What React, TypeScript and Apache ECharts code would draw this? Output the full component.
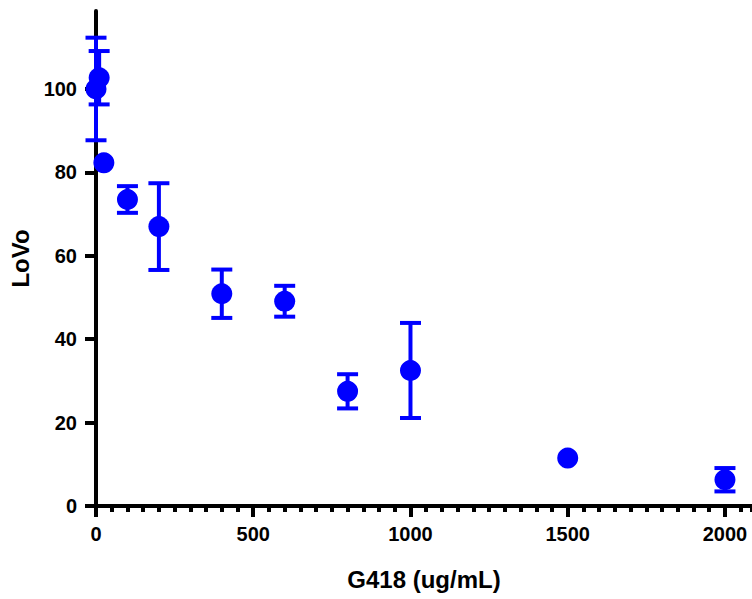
import React, { useEffect, useRef } from "react";
import * as echarts from "echarts";

const xValues = [0, 10, 25, 100, 200, 400, 600, 800, 1000, 1500, 2000];
const yValues = [100.0, 102.7, 82.3, 73.5, 67.0, 50.9, 49.1, 27.5, 32.5, 11.5, 6.3];
const yErrors = [12.3, 6.4, 0, 3.2, 10.4, 5.8, 3.7, 4.1, 11.4, 0, 2.8];
const xTickLabels = [0, 500, 1000, 1500, 2000];
const yTickLabels = [0, 20, 40, 60, 80, 100];
const xTitle = "G418 (ug/mL)";
const yTitle = "LoVo";

const BLUE = "#0000ff";
const FONT = "'Liberation Sans', Arial, sans-serif";

export default function App() {
  const ref = useRef<HTMLDivElement>(null);
  useEffect(() => {
    if (!ref.current) return;
    const chart = echarts.init(ref.current, undefined, { renderer: "svg" });
    const xMax = 2086;
    const yMax = 118.7;

    const points = xValues.map((x, i) => [x, yValues[i]]);
    const bars = xValues
      .map((x, i) => [x, yValues[i] - yErrors[i], yValues[i] + yErrors[i], yErrors[i]])
      .filter((d) => d[3] > 0);

    const axisLineStyle = { color: "#000", width: 4 };
    const plain = (v: number) => String(v);
    chart.setOption({
      animation: false,
      grid: { left: 96, top: 11, width: 656, height: 495, containLabel: false, outerBoundsMode: "none" },
      xAxis: [
        {
          type: "value",
          min: 0,
          max: xMax,
          position: "bottom",
          name: xTitle,
          nameLocation: "middle",
          nameGap: 61,
          nameTextStyle: { fontFamily: FONT, fontWeight: "bold", fontSize: 24, color: "#000" },
          axisLine: { show: true, onZero: false, lineStyle: axisLineStyle },
          axisTick: {
            show: true,
            interval: 0,
            length: 11,
            lineStyle: { color: "#000", width: 4 },
            customValues: xTickLabels,
          },
          axisLabel: {
            show: true,
            interval: 0,
            customValues: xTickLabels,
            formatter: plain,
            margin: 18,
            fontFamily: FONT,
            fontWeight: "bold",
            fontSize: 20,
            color: "#000",
          },
          splitLine: { show: false },
        },
        {
          type: "value",
          min: 0,
          max: xMax,
          interval: 50,
          position: "bottom",
          axisLine: { show: false, onZero: false },
          axisTick: {
            show: true,
            interval: 0,
            length: 6,
            lineStyle: { color: "#000", width: 4 },
          },
          axisLabel: { show: false, interval: 0 },
          splitLine: { show: false },
        },
      ],
      yAxis: {
        type: "value",
        min: 0,
        max: yMax,
        name: yTitle,
        nameLocation: "middle",
        nameGap: 62,
        nameTextStyle: { fontFamily: FONT, fontWeight: "bold", fontSize: 24, color: "#000" },
        axisLine: { show: true, onZero: false, lineStyle: axisLineStyle },
        axisTick: {
          show: true,
          interval: 0,
          length: 11,
          lineStyle: { color: "#000", width: 4 },
          customValues: yTickLabels,
        },
        axisLabel: {
          show: true,
          interval: 0,
          customValues: yTickLabels,
          formatter: plain,
          margin: 19,
          fontFamily: FONT,
          fontWeight: "bold",
          fontSize: 20,
          color: "#000",
        },
        splitLine: { show: false },
      },
      series: [
        {
          type: "custom",
          xAxisIndex: 0,
          clip: false,
          z: 3,
          data: bars,
          renderItem: (params: any, api: any) => {
            const x = api.value(0);
            const lo = api.coord([x, api.value(1)]);
            const hi = api.coord([x, api.value(2)]);
            const hw = 10.5;
            const style = { stroke: BLUE, lineWidth: 4 };
            return {
              type: "group",
              children: [
                { type: "line", shape: { x1: lo[0], y1: lo[1], x2: hi[0], y2: hi[1] }, style },
                { type: "line", shape: { x1: hi[0] - hw, y1: hi[1], x2: hi[0] + hw, y2: hi[1] }, style },
                { type: "line", shape: { x1: lo[0] - hw, y1: lo[1], x2: lo[0] + hw, y2: lo[1] }, style },
              ],
            };
          },
        },
        {
          type: "scatter",
          xAxisIndex: 0,
          clip: false,
          z: 4,
          symbol: "circle",
          symbolSize: 21,
          itemStyle: { color: BLUE, opacity: 1 },
          data: points,
        },
      ],
    });
    return () => chart.dispose();
  }, []);
  return (
    <div
      ref={ref}
      style={{ position: "absolute", left: 0, top: 0, width: 752, height: 599, background: "#fff" }}
    />
  );
}
